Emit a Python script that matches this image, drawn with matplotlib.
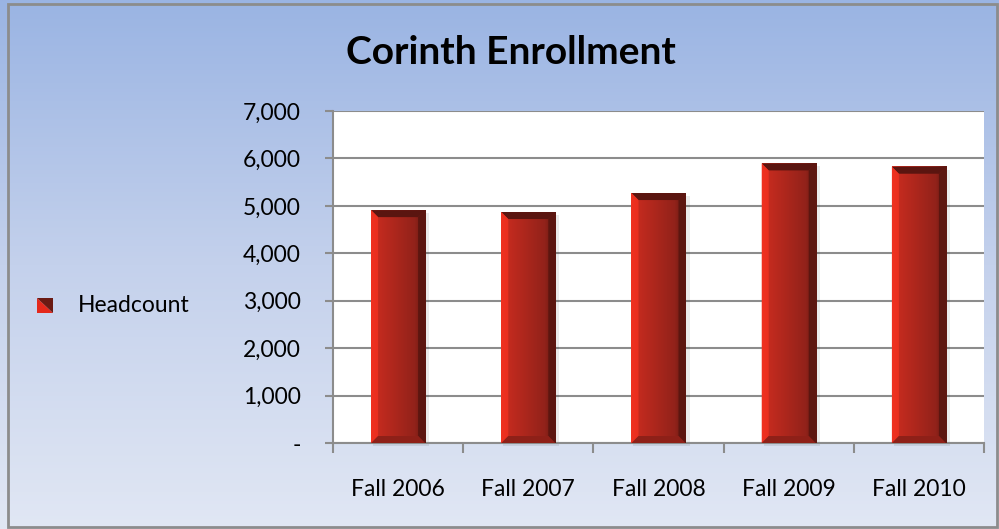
import matplotlib.pyplot as plt
import numpy as np
from matplotlib.patches import Polygon, Rectangle
from matplotlib.colors import LinearSegmentedColormap
import matplotlib.ticker as mticker

# data
terms = ["Fall 2006", "Fall 2007", "Fall 2008", "Fall 2009", "Fall 2010"]
headcount = [4910, 4870, 5270, 5895, 5825]
series_name = "Headcount"
y_ticks = [0, 1000, 2000, 3000, 4000, 5000, 6000, 7000]

plt.rcParams['font.family'] = ['Lato', 'DejaVu Sans']

W, H = 999, 529
fig = plt.figure(figsize=(W / 100, H / 100), dpi=100)

# gradient background
bg = fig.add_axes([0, 0, 1, 1], zorder=-10)
bg_cmap = LinearSegmentedColormap.from_list("bg", ["#9AB4E3", "#C4D1EC", "#E1E7F4"])
grad = np.linspace(0, 1, 256).reshape(-1, 1)
bg.imshow(grad, aspect="auto", cmap=bg_cmap, extent=[0, 1, 0, 1], origin="upper")
bg.set_xlim(0, 1)
bg.set_ylim(0, 1)
bg.axis("off")
bg.add_patch(Rectangle((8 / W, 2 / H), 989 / W, 523 / H, fill=False,
                       edgecolor="#8C8C8C", linewidth=2))

left, right, top, bottom = 333, 984, 111, 443
ax = fig.add_axes([left / W, 1 - bottom / H, (right - left) / W, (bottom - top) / H])
ax.set_facecolor("white")
ax.set_xlim(-0.5, len(terms) - 0.5)
ax.set_ylim(0, 7000)
ax.set_axisbelow(True)

xs = np.arange(len(terms))
bw = 0.415
bars = ax.bar(xs, headcount, width=bw, color="#A8261C", zorder=3)

px_x = (len(terms)) / (right - left)
px_y = 7000 / (bottom - top)
dx, dy = 7 * px_x, 7 * px_y
body_cmap = LinearSegmentedColormap.from_list(
    "body", [(0, "#F03522"), (0.12, "#C42B1F"), (0.5, "#A8261C"), (0.8, "#92221A"), (1, "#5E1711")])
hgrad = np.linspace(0, 1, 128).reshape(1, -1)
for b in bars:
    x0, y0 = b.get_x(), b.get_y()
    x1, y1 = x0 + b.get_width(), y0 + b.get_height()
    # shadow
    ax.add_patch(Rectangle((x0 + 2 * px_x, y0 - 3 * px_y), b.get_width() + 2 * px_x,
                           b.get_height(), color="#000000", alpha=0.08, zorder=2,
                           clip_on=False, linewidth=0))
    ax.imshow(hgrad, cmap=body_cmap, aspect="auto", extent=[x0, x1, y0, y1], zorder=3.5)
    ax.add_patch(Polygon([(x0, y1), (x1, y1), (x1 - dx, y1 - dy), (x0 + dx, y1 - dy)],
                         color="#5A1510", zorder=4, linewidth=0))
    ax.add_patch(Polygon([(x0, y0), (x0, y1), (x0 + dx, y1 - dy), (x0 + dx, y0 + dy)],
                         color="#F0301F", zorder=4, linewidth=0, alpha=0.85))
    ax.add_patch(Polygon([(x1, y0), (x1, y1), (x1 - dx, y1 - dy), (x1 - dx, y0 + dy)],
                         color="#5C1610", zorder=4, linewidth=0))
    ax.add_patch(Polygon([(x0, y0), (x1, y0), (x1 - dx, y0 + dy), (x0 + dx, y0 + dy)],
                         color="#8E2018", zorder=4, linewidth=0))

ax.set_xlim(-0.5, len(terms) - 0.5)
ax.set_ylim(0, 7000)

ax.set_yticks(y_ticks)
ax.yaxis.set_major_formatter(mticker.FuncFormatter(lambda v, p: "-" if v == 0 else f"{int(v):,}"))
ax.yaxis.grid(True, color="#8C8C8C", linewidth=1.5)
ax.set_xticks(xs)
ax.set_xticklabels(terms)
ax.set_xticks(np.arange(len(terms) + 1) - 0.5, minor=True)
ax.tick_params(axis="x", which="major", length=0, pad=26, labelsize=16.5)
ax.tick_params(axis="x", which="minor", length=7, color="#8C8C8C", width=1.5)
ax.tick_params(axis="y", length=6, color="#8C8C8C", width=1.5, pad=17, labelsize=16.5)
for s in ["top", "right"]:
    ax.spines[s].set_visible(False)
for s in ["left", "bottom"]:
    ax.spines[s].set_color("#8C8C8C")
    ax.spines[s].set_linewidth(1.5)

fig.text(511 / W, 1 - 53 / H, "Corinth Enrollment", ha="center", va="center",
         fontsize=28, fontweight="bold")

# legend
lx0, lx1, ly0, ly1 = 37 / W, 53 / W, 1 - 313 / H, 1 - 298 / H
bg.add_patch(Polygon([(lx0, ly0), (lx1, ly0), (lx0, ly1)], color="#E4291C", linewidth=0))
bg.add_patch(Polygon([(lx1, ly0), (lx1, ly1), (lx0, ly1)], color="#6A1A13", linewidth=0))
fig.text(78 / W, 1 - 305 / H, series_name, ha="left", va="center", fontsize=16.5)

fig.savefig("out.png", dpi=100)
